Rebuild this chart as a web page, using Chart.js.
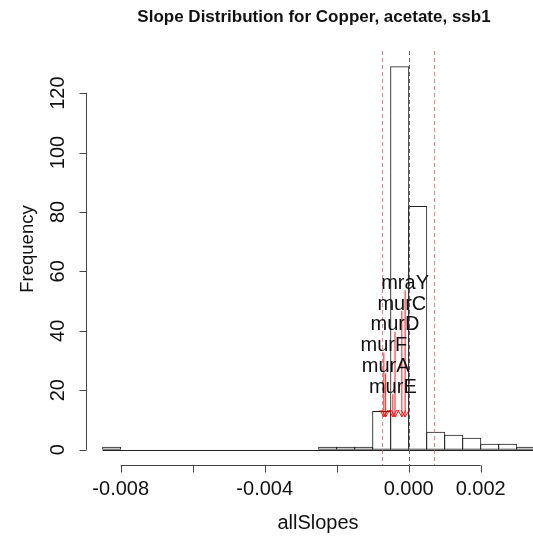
<!DOCTYPE html>
<html><head><meta charset="utf-8">
<script src="https://cdn.jsdelivr.net/npm/chart.js@4/dist/chart.umd.min.js"></script>
<style>html,body{margin:0;padding:0;background:#fff}#wrap{width:533px;height:541px}</style>
</head><body><div id="wrap"><canvas id="c"></canvas></div>
<script>
// histogram bins (midpoints, width 0.0005) and counts
const binMids = [-0.00825,-0.00775,-0.00725,-0.00675,-0.00625,-0.00575,-0.00525,-0.00475,-0.00425,-0.00375,-0.00325,-0.00275,
  -0.00225,-0.00175,-0.00125,-0.00075,-0.00025,0.00025,0.00075,0.00125,0.00175,0.00225,0.00275,0.00325];
const counts = [1,0,0,0,0,0,0,0,0,0,0,0, 1,1,1,13,129,82,6,5,4,2,2,1];
const binWidth = 0.0005;

// cutoffs (red dashed) and zero line (grey dashed)
const cutoffs = [-0.00074, 0.00069];
const zeroLine = [0];

// genes marked with arrows
const genes = ["mraY","murC","murD","murF","murA","murE"];
const geneSlopes = [-0.0001,-0.00019,-0.00038,-0.00069,-0.00064,-0.00044];
const labelY = [56,49,42,35,28,21];
const arrowTo = 11;

const xTicks = [-0.008,-0.006,-0.004,-0.002,0,0.002];
const xTickLabels = ["-0.008","","-0.004","","0.000","0.002"];
const yTicks = [0,20,40,60,80,100,120];

const FONT = '"Liberation Sans", Arial, sans-serif';

const deco = {
  id:'deco',
  afterDatasetsDraw(chart){
    const {ctx, chartArea:a, scales:{x,y}} = chart;
    ctx.save();
    // baseline of empty bins
    ctx.strokeStyle = '#222'; ctx.lineWidth = 1;
    ctx.beginPath();
    const y0 = Math.round(y.getPixelForValue(0)) + 0.5;
    ctx.moveTo(x.getPixelForValue(binMids[0]-binWidth/2), y0);
    ctx.lineTo(a.right, y0);
    ctx.stroke();

    // dashed reference lines
    ctx.setLineDash([4,3]);
    ctx.strokeStyle = 'rgba(255,70,70,0.7)';
    cutoffs.forEach(v=>{
      const px = Math.round(x.getPixelForValue(v))+0.5;
      ctx.beginPath(); ctx.moveTo(px,a.top); ctx.lineTo(px,a.bottom); ctx.stroke();
    });
    ctx.strokeStyle = '#666';
    zeroLine.forEach(v=>{
      const px = Math.round(x.getPixelForValue(v))+0.5;
      ctx.beginPath(); ctx.moveTo(px,a.top); ctx.lineTo(px,a.bottom); ctx.stroke();
    });
    ctx.setLineDash([]);

    // arrows
    ctx.strokeStyle = 'rgba(255,0,0,0.9)';
    genes.forEach((g,i)=>{
      const px = x.getPixelForValue(geneSlopes[i]);
      const top = y.getPixelForValue(labelY[i]) + 7;
      const bot = y.getPixelForValue(arrowTo);
      ctx.beginPath(); ctx.moveTo(px,top); ctx.lineTo(px,bot);
      ctx.moveTo(px-4,bot-7); ctx.lineTo(px,bot); ctx.lineTo(px+4,bot-7);
      ctx.stroke();
    });
    // gene labels
    ctx.fillStyle = '#111';
    ctx.font = '20px '+FONT;
    ctx.textAlign = 'center'; ctx.textBaseline = 'middle';
    genes.forEach((g,i)=>{
      ctx.fillText(g, x.getPixelForValue(geneSlopes[i]), y.getPixelForValue(labelY[i]));
    });

    // x axis
    ctx.strokeStyle = '#444';
    const xa = a.bottom + 0.5;
    ctx.beginPath();
    ctx.moveTo(x.getPixelForValue(xTicks[0]), xa);
    ctx.lineTo(x.getPixelForValue(xTicks[xTicks.length-1]), xa);
    xTicks.forEach(v=>{
      const px = Math.round(x.getPixelForValue(v))+0.5;
      ctx.moveTo(px, xa); ctx.lineTo(px, xa+7);
    });
    ctx.stroke();
    ctx.fillStyle = '#111';
    ctx.textAlign = 'center'; ctx.textBaseline = 'middle';
    xTicks.forEach((v,i)=>{
      if(xTickLabels[i]) ctx.fillText(xTickLabels[i], x.getPixelForValue(v), 489);
    });
    ctx.fillText('allSlopes', 318, 523);

    // y axis
    const ya = a.left + 0.5;
    ctx.beginPath();
    ctx.moveTo(ya, y.getPixelForValue(yTicks[0]));
    ctx.lineTo(ya, y.getPixelForValue(yTicks[yTicks.length-1]));
    yTicks.forEach(v=>{
      const py = Math.round(y.getPixelForValue(v))+0.5;
      ctx.moveTo(ya, py); ctx.lineTo(ya-7, py);
    });
    ctx.stroke();
    yTicks.forEach(v=>{
      ctx.save();
      ctx.translate(58, y.getPixelForValue(v));
      ctx.rotate(-Math.PI/2);
      ctx.fillText(String(v), 0, 0);
      ctx.restore();
    });
    ctx.save();
    ctx.font = '18.5px '+FONT;
    ctx.translate(28, 249);
    ctx.rotate(-Math.PI/2);
    ctx.fillText('Frequency', 0, 0);
    ctx.restore();

    // title
    ctx.font = 'bold 17px '+FONT;
    ctx.fillText('Slope Distribution for Copper, acetate, ssb1', 314, 17);
    ctx.restore();
  }
};

new Chart(document.getElementById('c'), {
  type:'bar',
  data:{
    datasets:[{
      data: binMids.map((m,i)=>({x:m, y:counts[i]})),
      backgroundColor:'rgba(0,0,0,0)',
      borderColor:'#222',
      borderWidth:1,
      borderSkipped:false,
      barPercentage:1.06,
      categoryPercentage:1
    }]
  },
  options:{
    responsive:true, maintainAspectRatio:false, animation:false,
    layout:{padding:{left:86, top:51, right:0, bottom:76}},
    plugins:{legend:{display:false}, tooltip:{enabled:false}, title:{display:false}},
    scales:{
      x:{type:'linear', min:-0.008964, max:0.003453, offset:false, display:false},
      y:{min:-5.16, max:134.16, display:false}
    }
  },
  plugins:[deco]
});
</script>
</body></html>
